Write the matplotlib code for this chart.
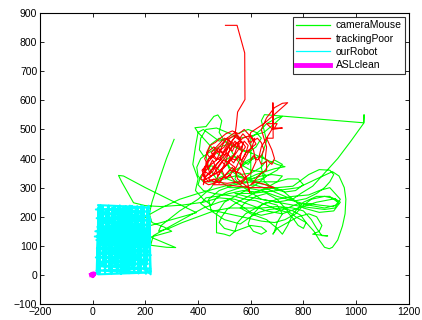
import matplotlib
matplotlib.use('Agg')
import matplotlib.pyplot as plt

plt.rcParams['font.family'] = ['Liberation Sans', 'DejaVu Sans']

# trajectories (x, y)
camera_mouse = [
    (309, 466), (280, 400), (250, 320), (225, 250), (215, 210), (225, 180), (270, 165), (300, 150),
    (260, 140), (220, 130), (260, 115), (300, 100), (315, 94), (280, 95), (220, 102),
    (230, 135), (300, 170), (360, 200), (420, 230), (450, 240), (420, 260), (390, 290), (400, 330),
    (380, 380), (390, 440), (400, 490), (388, 506), (430, 510), (460, 545), (475, 550), (490, 530),
    (480, 490), (500, 460), (540, 440), (600, 420), (650, 400), (700, 380), (730, 372), (690, 365),
    (620, 345), (560, 320), (480, 300), (400, 280), (330, 260), (260, 230), (200, 200),
    (220, 170), (300, 190), (394, 214), (300, 255), (200, 300), (117, 340), (98, 342), (110, 320),
    (155, 248), (200, 238), (260, 235), (340, 240), (420, 250), (480, 265), (540, 260), (600, 240),
    (660, 220), (720, 210), (780, 230), (850, 250), (920, 262), (940, 250), (915, 220), (860, 215),
    (800, 230), (760, 260), (720, 290), (660, 310), (600, 320), (540, 310), (480, 290), (440, 260),
    (450, 220), (500, 190), (560, 175), (600, 200), (640, 240), (700, 260), (760, 270), (820, 275),
    (860, 290), (900, 300), (920, 280), (940, 260), (925, 240), (880, 230), (820, 240), (760, 255),
    (700, 270), (640, 290), (580, 300), (520, 300), (470, 330), (440, 370), (430, 410), (450, 450),
    (480, 470), (510, 455), (530, 420), (560, 380), (600, 360), (640, 355), (660, 340), (620, 310),
    (560, 280), (500, 250), (470, 210), (470, 170), (470, 145), (500, 140), (520, 134), (540, 150),
    (550, 180), (580, 210), (620, 230), (660, 250), (700, 240), (720, 210), (700, 180), (690, 150),
    (684, 140), (700, 160), (740, 180), (780, 200), (820, 210), (850, 200), (870, 170), (860, 150),
    (835, 140), (892, 134), (870, 135), (850, 160), (830, 190), (800, 220), (760, 230), (700, 235),
    (640, 230), (580, 230), (520, 230), (460, 220), (400, 200), (340, 180), (290, 160), (250, 150),
    (260, 170), (330, 220), (400, 260), (450, 300), (470, 330), (520, 350), (560, 370), (600, 395),
    (640, 410), (660, 395), (640, 370), (600, 350), (560, 345), (520, 370), (500, 400), (470, 420),
    (450, 440), (420, 470), (400, 490), (420, 500), (450, 480), (480, 460), (520, 470), (560, 490),
    (590, 500), (620, 490), (640, 470), (620, 440), (590, 420), (560, 430), (520, 450), (480, 440),
    (440, 420), (410, 400), (395, 370), (400, 340), (420, 320), (460, 320), (500, 330), (540, 340),
    (580, 330), (620, 320), (660, 320), (700, 320), (740, 330), (780, 330), (800, 310), (770, 290),
    (730, 285), (690, 295), (652, 320), (640, 370), (645, 420), (660, 460), (650, 500), (640, 530),
    (652, 551), (1028, 523), (1030, 551), (1030, 523), (980, 460), (930, 400), (880, 350), (835, 305),
    (790, 280), (759, 260), (700, 250), (640, 260), (580, 270), (540, 280),
    (600, 280), (700, 290), (780, 300), (850, 330), (910, 355), (935, 340), (955, 300), (961, 260),
    (958, 210), (948, 168), (930, 120), (910, 95), (898, 90), (880, 95), (860, 120), (840, 150),
    (810, 180), (770, 200), (740, 220), (700, 260), (660, 280), (620, 270), (580, 250), (560, 230),
    (600, 210), (660, 190), (700, 160), (720, 140), (740, 170), (760, 210), (800, 250), (850, 270),
    (900, 270), (930, 250), (920, 230), (880, 225), (820, 232), (760, 240), (700, 250), (640, 260),
    (590, 290), (560, 310), (540, 330), (550, 360),
    (580, 390), (610, 405), (590, 380), (560, 395), (530, 410), (505, 395), (520, 360), (555, 340),
    (600, 330), (640, 340), (680, 345), (720, 340), (700, 320), (660, 300), (620, 285), (570, 290),
    (520, 280), (470, 270), (430, 265), (410, 245), (440, 225), (490, 215), (540, 205), (590, 195),
    (640, 185), (690, 180), (730, 190), (770, 210), (800, 240), (830, 260), (880, 270), (920, 262),
    (935, 245), (910, 235), (860, 240), (820, 245), (780, 245), (740, 230), (690, 215), (640, 205),
    (600, 215), (560, 240), (520, 260), (480, 250), (450, 240), (470, 265), (510, 285), (560, 300),
    (610, 310), (650, 300), (690, 285), (730, 270), (770, 255), (810, 262), (850, 280), (880, 300),
    (900, 320), (915, 345), (900, 360), (860, 362), (820, 345), (790, 325), (760, 305), (700, 300),
    (660, 295), (620, 285), (580, 265), (540, 245), (510, 225), (490, 200), (480, 180), (500, 160),
    (540, 150), (570, 160), (600, 170), (640, 165), (660, 150), (640, 140), (610, 150), (590, 175),
    (600, 200), (630, 215), (670, 225), (720, 230), (760, 220), (790, 205), (810, 180), (800, 160),
    (780, 170), (760, 195), (740, 215), (700, 225), (660, 240), (620, 255), (580, 260), (540, 270),
    (500, 275), (460, 280), (420, 290), (400, 310), (410, 340), (430, 360), (450, 375), (470, 370),
    (490, 350), (510, 330), (540, 320), (580, 320), (620, 335), (650, 355), (670, 380), (690, 395),
    (720, 380), (700, 360), (670, 345), (640, 330), (600, 320), (600, 470), (640, 500), (660, 520),
    (700, 540), (720, 545), (690, 520), (650, 490), (610, 480), (560, 470), (510, 490), (470, 505),
    (430, 500), (410, 470), (405, 430), (420, 410),
]

tracking_poor = [
    (504, 858), (548, 858), (577, 763), (578, 603), (550, 560), (545, 515), (540, 480), (520, 470),
    (500, 440), (470, 420), (440, 390), (420, 350), (410, 330), (430, 320), (470, 330), (500, 380),
    (520, 430), (540, 460), (560, 440), (530, 400), (490, 360), (450, 340), (420, 360), (440, 400),
    (480, 440), (510, 470), (540, 490), (560, 470), (540, 420), (510, 380), (470, 350), (430, 330),
    (415, 345), (450, 380), (490, 410), (520, 450), (545, 480), (570, 450), (560, 400), (540, 360),
    (550, 330), (590, 300), (596, 283), (590, 310), (580, 340), (560, 380), (580, 420), (620, 450),
    (600, 480), (570, 470), (530, 440), (500, 400), (470, 360), (440, 330), (460, 320), (510, 315),
    (560, 320), (600, 350), (620, 390), (610, 430), (590, 460), (600, 490), (650, 520), (700, 560),
    (740, 592), (720, 590), (690, 575), (660, 540), (640, 500), (650, 470), (660, 440), (655, 400),
    (680, 380), (690, 400), (680, 430), (660, 470), (685, 470), (684, 592), (684, 500), (660, 520),
    (700, 520), (690, 505), (720, 505), (680, 500), (660, 470), (640, 440), (630, 400), (640, 380),
    (660, 390), (660, 360), (640, 350), (620, 330), (600, 310), (620, 320), (690, 300), (600, 300),
    (500, 310), (457, 310), (480, 330), (520, 340), (540, 370), (510, 390), (470, 400), (450, 420),
    (480, 450), (500, 470), (520, 460), (500, 430), (480, 390), (450, 360), (430, 340), (420, 320),
    (440, 310), (480, 320), (520, 360), (560, 350), (580, 330), (560, 310), (540, 320),
    (520, 345), (505, 330), (490, 360), (475, 340), (460, 375), (445, 350), (430, 385), (450, 410),
    (470, 395), (485, 425), (500, 410), (515, 440), (530, 425), (545, 455), (560, 430), (575, 460),
    (590, 445), (580, 415), (565, 395), (550, 410), (535, 385), (520, 400), (505, 375), (490, 390),
    (470, 365), (455, 395), (440, 370), (425, 400), (440, 425), (460, 440), (480, 420), (495, 450),
    (510, 470), (525, 455), (540, 475), (555, 465), (570, 485), (585, 470), (600, 455), (615, 470),
    (605, 440), (590, 420), (575, 395), (560, 370), (545, 350), (530, 370), (515, 355), (495, 335),
    (480, 315), (460, 330), (440, 320), (425, 335), (415, 360), (430, 375), (420, 310), (430, 340),
    (455, 355), (470, 380), (490, 400), (510, 420), (525, 400), (545, 395), (565, 420), (580, 440),
    (565, 460), (548, 440), (530, 455), (512, 435), (495, 420), (478, 435), (462, 418), (446, 400),
    (432, 420), (445, 445), (465, 455), (485, 470), (505, 485), (530, 495), (555, 485), (575, 500),
    (595, 480), (610, 460), (625, 470), (640, 455), (650, 430), (640, 410), (625, 395), (610, 410),
    (600, 395),
]

our_robot = [
    (15, 5), (22, 232), (18, 20), (30, 238), (26, 8), (35, 225), (40, 40), (38, 235), (47, 3),
    (52, 210), (50, 30), (58, 236), (63, 12), (61, 238), (70, 25), (74, 230), (72, 6), (80, 220),
    (86, 35), (83, 237), (92, 10), (96, 232), (94, 18), (103, 239), (108, 4), (105, 228), (114, 45),
    (118, 234), (116, 15), (125, 236), (130, 8), (127, 226), (136, 30), (141, 238), (138, 6),
    (147, 231), (152, 22), (149, 237), (158, 12), (163, 224), (160, 40), (169, 236), (174, 5),
    (171, 233), (180, 28), (185, 238), (182, 10), (191, 230), (196, 18), (193, 236), (202, 4),
    (207, 229), (204, 36), (212, 238), (218, 9), (215, 200), (220, 2),
    (20, 240), (215, 232), (12, 225), (218, 218), (25, 210), (210, 203), (15, 195), (220, 188),
    (30, 180), (205, 172), (18, 165), (216, 158), (10, 150), (212, 142), (8, 132), (219, 128),
    (14, 120), (208, 112), (28, 105), (217, 98), (16, 90), (211, 82), (20, 75), (220, 68),
    (12, 60), (214, 52), (26, 45), (209, 38), (18, 30), (218, 22), (15, 15), (212, 8), (20, 2),
    (30, 200), (60, 170), (40, 140), (80, 120), (60, 90), (100, 70), (80, 40), (120, 20), (140, 60),
    (110, 90), (150, 110), (130, 150), (170, 170), (150, 200), (190, 220), (170, 180), (200, 150),
    (180, 110), (210, 80), (190, 40), (160, 20), (140, 50), (100, 30), (70, 60), (40, 30), (20, 60),
    (50, 90), (25, 120), (55, 150), (20, 180), (45, 215), (80, 230), (110, 200), (90, 170),
    (120, 140), (100, 110), (140, 90), (170, 60), (200, 30),
]

asl_clean = [(-6, 0), (6, 3), (0, -4), (4, 5), (-4, 3), (0, 0)]

fig = plt.figure(figsize=(4.22, 3.2), dpi=100)
ax = fig.add_axes([0.0948, 0.05, 0.874, 0.909])

for data, col, lw, name in [(camera_mouse, '#00ff00', 0.8, 'cameraMouse'),
                            (tracking_poor, '#ff0000', 0.8, 'trackingPoor'),
                            (our_robot, '#00ffff', 1.5, 'ourRobot'),
                            (asl_clean, '#ff00ff', 3.0, 'ASLclean')]:
    xs = [p[0] for p in data]
    ys = [p[1] for p in data]
    ax.plot(xs, ys, color=col, lw=lw, label=name)

ax.set_xlim(-200, 1200)
ax.set_ylim(-100, 900)
ax.set_xticks(range(-200, 1201, 200))
ax.set_yticks(range(-100, 901, 100))
ax.tick_params(direction='in', top=True, right=True, length=3, width=0.6, labelsize=7.5, pad=2)
for s in ax.spines.values():
    s.set_linewidth(0.8)

leg = ax.legend(loc='upper right', fontsize=7.5, frameon=True, fancybox=False,
                edgecolor='black', borderaxespad=0.4, handlelength=3.3, labelspacing=0.32,
                borderpad=0.3, handletextpad=0.5)
leg.get_frame().set_linewidth(0.8)
for h in leg.legend_handles[:3]:
    h.set_linewidth(0.9)
leg.legend_handles[3].set_linewidth(3.5)

fig.savefig('out.png', dpi=100)
